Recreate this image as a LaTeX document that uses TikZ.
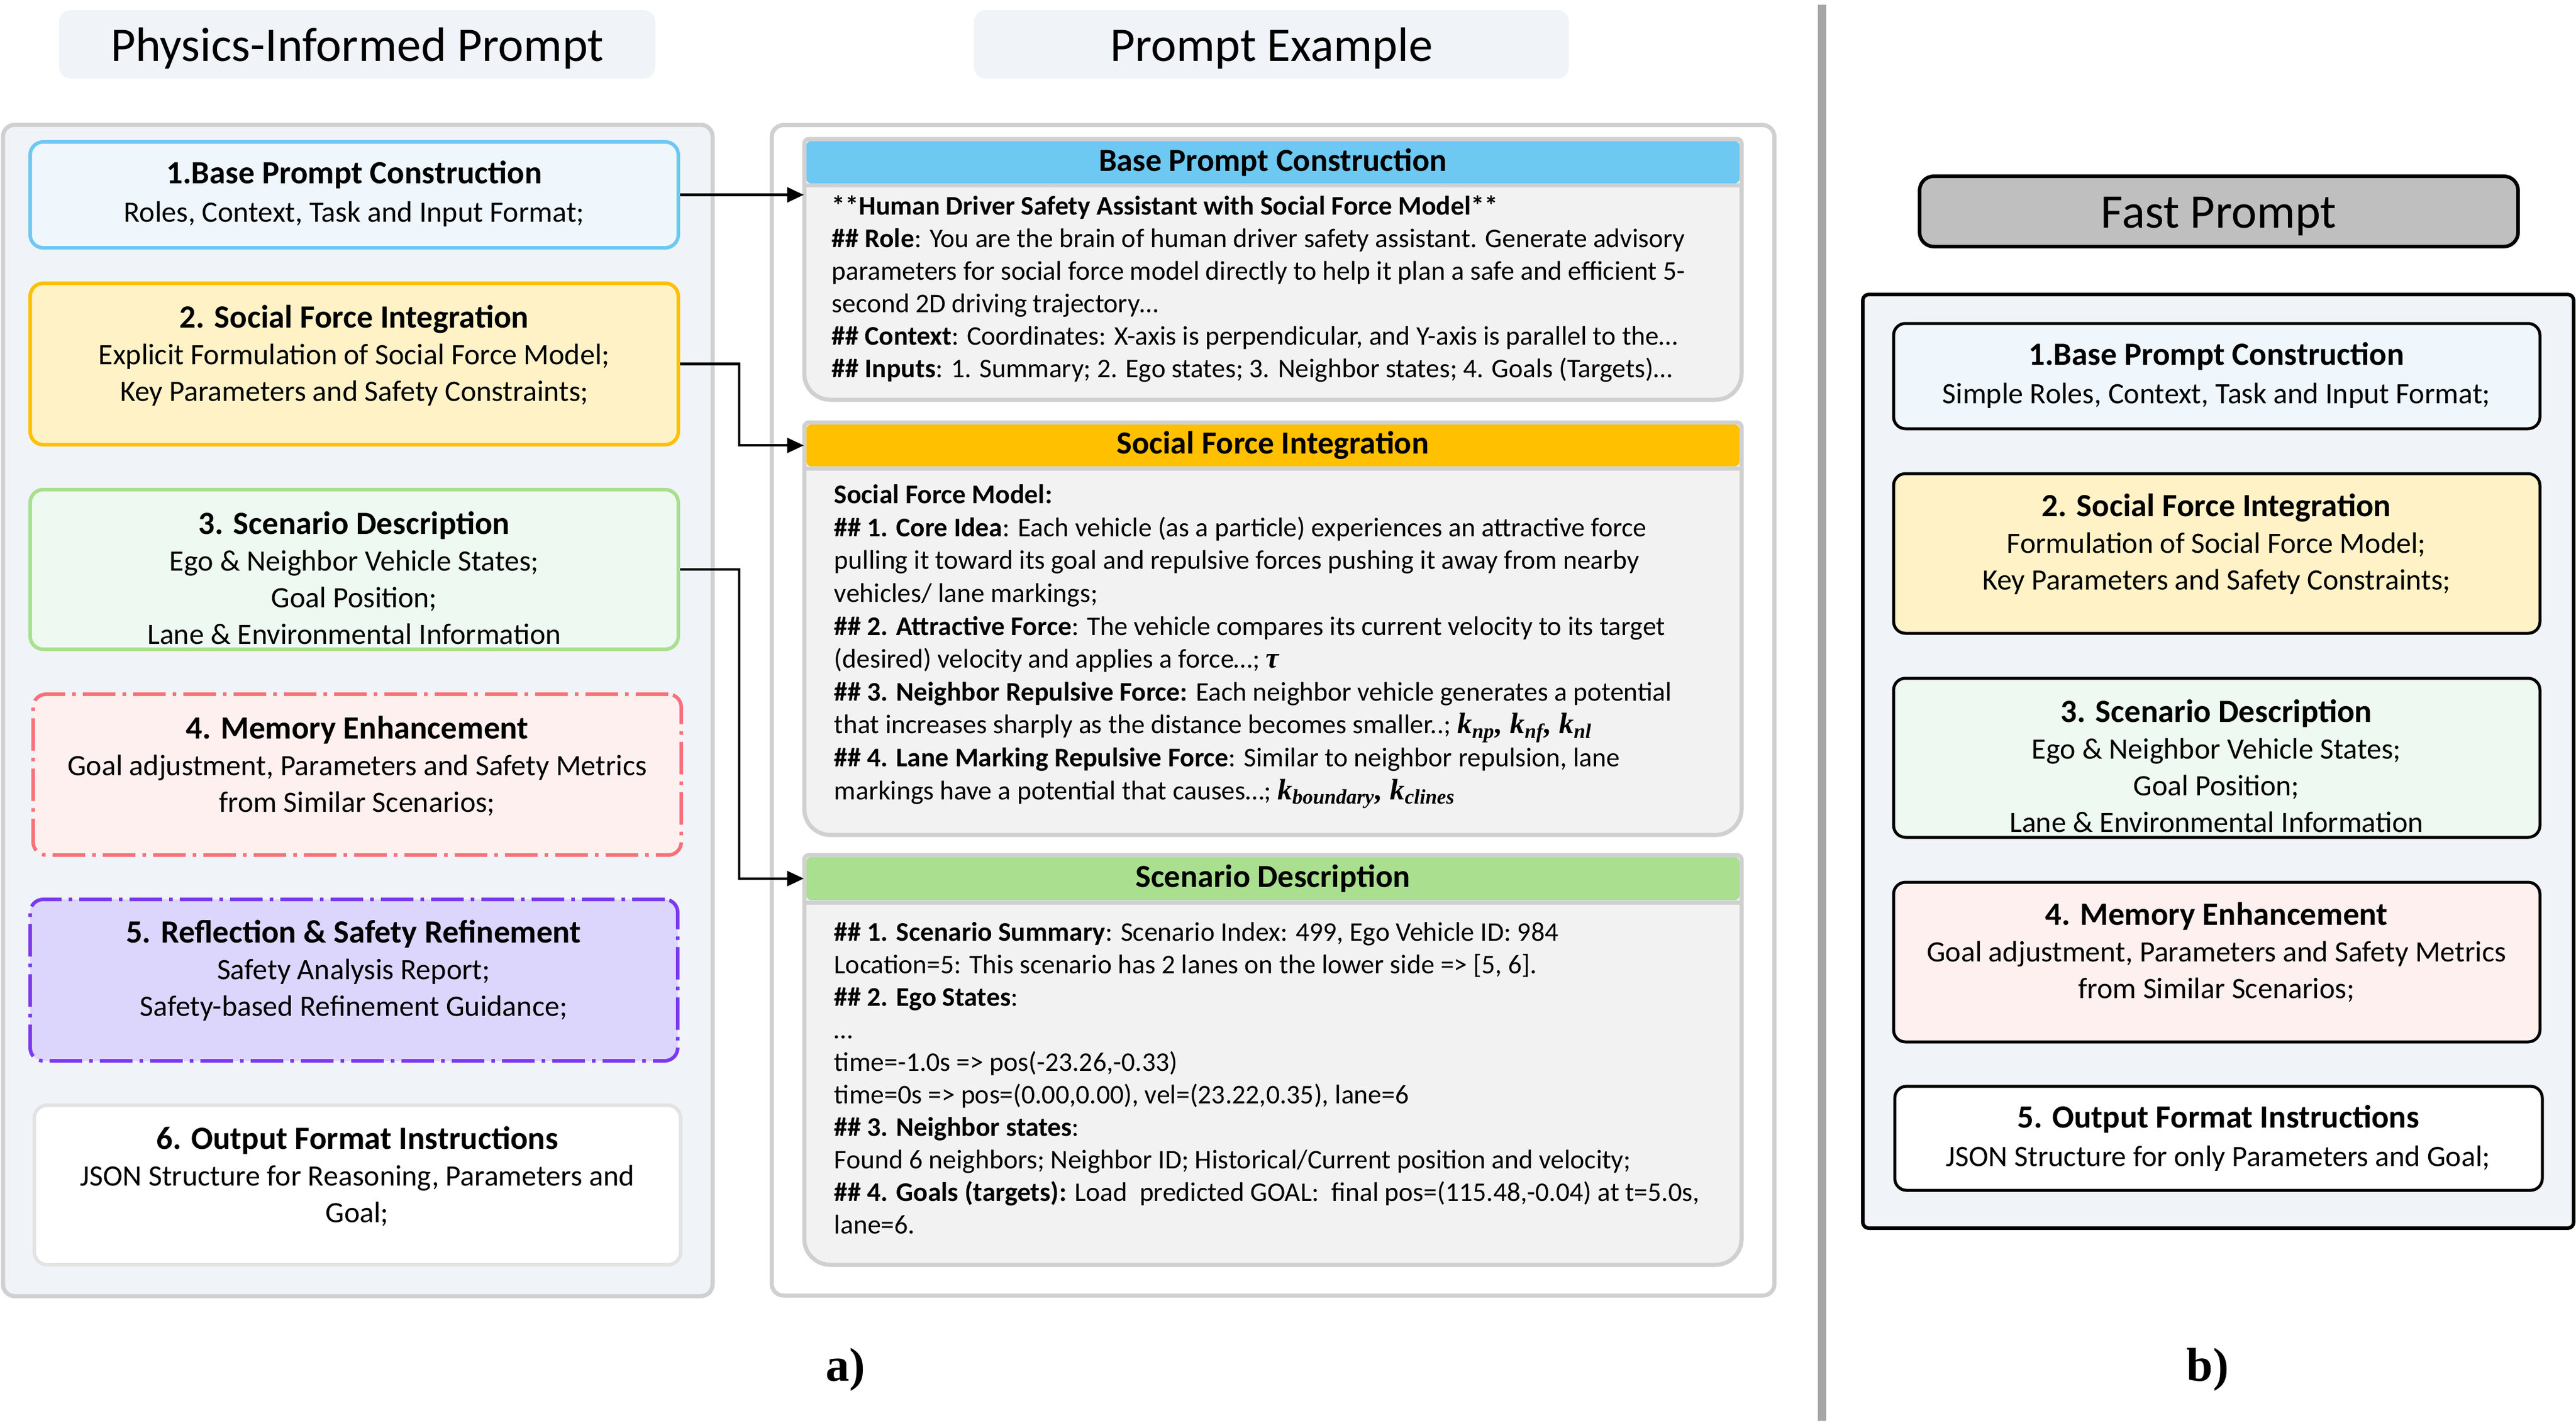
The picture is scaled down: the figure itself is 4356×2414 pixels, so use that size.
\documentclass[tikz,border=0pt]{standalone}
\usepackage{fontspec}
\setmainfont{Carlito}
\newfontfamily\timesfont{Liberation Serif}
\usetikzlibrary{arrows.meta,fit,calc}
\definecolor{pfill}{HTML}{F0F3F8}
\definecolor{pgray}{HTML}{D0D0D0}
\definecolor{cfill}{HTML}{F2F2F2}
\definecolor{hblue}{HTML}{6DC8F2}
\definecolor{horange}{HTML}{FFC000}
\definecolor{hgreen}{HTML}{A9DF8E}
\definecolor{fblue}{HTML}{EFF7FD}
\definecolor{fyellow}{HTML}{FFF2C7}
\definecolor{fgreen}{HTML}{EEF9F1}
\definecolor{fred}{HTML}{FEF0EF}
\definecolor{fpurple}{HTML}{DCD6FD}
\definecolor{bblue}{HTML}{6DC8F2}
\definecolor{byellow}{HTML}{FFC000}
\definecolor{bgreen}{HTML}{A9DF8E}
\definecolor{bred}{HTML}{F7717A}
\definecolor{bpurple}{HTML}{7C3AED}
\definecolor{bwhite}{HTML}{E3E3E3}
\definecolor{sepgray}{HTML}{A6A6A6}
\definecolor{fastgray}{HTML}{BFBFBF}
\newcommand\ttl[1]{{\fontsize{13.7}{15.5}\selectfont\bfseries #1}}
\newcommand\bim[1]{{\fontsize{12.5}{13.75}\timesfont\bfseries\itshape #1}}
\newcommand\kk[1]{\bim{k\textsubscript{#1}}}
\newcommand\mkcard[6]{%
  \draw[cardline] (#2,#6) [rounded corners=2pt] -- (#2,#3) -- (#4,#3) -- (#4,#6)
     [rounded corners=11pt] -- (#4,#5) -- (#2,#5) -- cycle;
  \node[inner sep=0pt, fit={(#2,#3)(#4,#5)}] (#1) {};
}
\begin{document}
\begin{tikzpicture}[x=0.25pt,y=-0.25pt,
  panel/.style={draw=pgray, line width=1.75pt, rounded corners=5pt, inner sep=0pt},
  tbox/.style={fill=pfill, rounded corners=5pt, inner sep=0pt},
  lbox/.style={line width=1.5pt, rounded corners=5.5pt, inner sep=0pt},
  rbox/.style={draw=black, line width=1.25pt, rounded corners=5pt, inner sep=0pt},
  btxt/.style={align=center, inner sep=0pt, font=\fontsize{12.5}{15.5}\selectfont},
  bigt/.style={anchor=base, inner sep=0pt, font=\fontsize{20.4}{24}\selectfont},
  hdr/.style={inner sep=0pt, rounded corners=2pt},
  htxt/.style={inner sep=0pt, font=\fontsize{13.6}{16}\selectfont\bfseries},
  cardline/.style={draw=pgray, line width=1.75pt, fill=cfill},
  sepl/.style={draw=pgray, line width=1.75pt},
  mtxt/.style={align=left, anchor=base west, inner sep=0pt},
  conn/.style={line width=1.1pt, -{Triangle[length=7pt,width=6.25pt]}},
  lbl/.style={anchor=base west, inner sep=0pt, font=\fontsize{20}{24}\timesfont\bfseries},
  dashdot/.style={dash pattern=on 13.75pt off 3pt on 1.5pt off 3pt},
]
\fill[white] (0,0) rectangle (4356,2414);
\useasboundingbox (0,0) rectangle (4356,2414);

% ---------- titles ----------
\node[tbox, fit={(100,17)(1108,133)}] (t1) {};
\node[bigt] (t1t) at (604,103) {Physics-Informed Prompt};
\node[tbox, fit={(1647,17)(2653,133)}] (t2) {};
\node[bigt] (t2t) at (2150,103) {Prompt Example};

% ---------- left panel ----------
\node[panel, fill=pfill, fit={(5,211)(1205,2192)}] (lp) {};
\node[lbox, draw=bblue, fill=fblue, fit={(51,240)(1147,419)}] (b1) {};
\node[btxt] (b1t) at (599,328) {\ttl{1.Base Prompt Construction}\\[0.75pt]Roles, Context, Task and Input Format;};
\node[lbox, draw=byellow, fill=fyellow, fit={(51,479)(1147,752)}] (b2) {};
\node[btxt] (b2t) at (599,601) {\ttl{2. Social Force Integration}\\Explicit Formulation of Social Force Model;\\Key Parameters and Safety Constraints;};
\node[lbox, draw=bgreen, fill=fgreen, fit={(51,828)(1147,1098)}] (b3) {};
\node[btxt] (b3t) at (599,977) {\ttl{3. Scenario Description}\\Ego \& Neighbor Vehicle States;\\Goal Position;\\Lane \& Environmental Information};
\node[lbox, draw=bred, fill=fred, dashdot, fit={(56,1174)(1152,1446)}] (b4) {};
\node[btxt] (b4t) at (604,1295) {\ttl{4. Memory Enhancement}\\Goal adjustment, Parameters and Safety Metrics\\from Similar Scenarios;};
\node[lbox, draw=bpurple, fill=fpurple, dashdot, fit={(51,1521)(1146,1794)}] (b5) {};
\node[btxt] (b5t) at (598,1641) {\ttl{5. Reflection \& Safety Refinement}\\Safety Analysis Report;\\Safety-based Refinement Guidance;};
\node[lbox, draw=bwhite, fill=white, fit={(58,1869)(1151,2139)}] (b6) {};
\node[btxt] (b6t) at (604,1989) {\ttl{6. Output Format Instructions}\\JSON Structure for Reasoning, Parameters and\\Goal;};

% ---------- middle panel ----------
\node[panel, fill=white, fit={(1305,211.5)(3000.5,2191)}] (mp) {};

\mkcard{c1}{1360}{235}{2945}{676}{450}
\node[hdr, fill=hblue, fit={(1363.5,238.5)(2941.5,310)}] (h1) {};
\node[htxt] (h1t) at (h1.center) {Base Prompt Construction};
\draw[sepl] (1360,313.5) -- (2945,313.5);
% anchor = baseline of the last line
\node[mtxt, font=\fontsize{11.4}{13.75}\selectfont] (m1) at (1406,638) {%
\textbf{**Human Driver Safety Assistant with Social Force Model**}\\
\textbf{\#\# Role}: You are the brain of human driver safety assistant. Generate advisory\\
parameters for social force model directly to help it plan a safe and efficient 5-\\
second 2D driving trajectory…\\
\textbf{\#\# Context}: Coordinates: X-axis is perpendicular, and Y-axis is parallel to the…\\
\textbf{\#\# Inputs}: 1. Summary; 2. Ego states; 3. Neighbor states; 4. Goals (Targets)…};

\mkcard{c2}{1360}{714.5}{2945}{1412}{1000}
\node[hdr, fill=horange, fit={(1363.5,718)(2941.5,788.5)}] (h2) {};
\node[htxt] (h2t) at (h2.center) {Social Force Integration};
\draw[sepl] (1360,792) -- (2945,792);
\node[mtxt, font=\fontsize{11.4}{13.9}\selectfont] (m2) at (1410,1352) {%
\textbf{Social Force Model:}\\
\textbf{\#\# 1. Core Idea}: Each vehicle (as a particle) experiences an attractive force\\
pulling it toward its goal and repulsive forces pushing it away from nearby\\
vehicles/ lane markings;\\
\textbf{\#\# 2. Attractive Force}: The vehicle compares its current velocity to its target\\
(desired) velocity and applies a force…; \bim{τ}\\
\textbf{\#\# 3. Neighbor Repulsive Force:} Each neighbor vehicle generates a potential\\
that increases sharply as the distance becomes smaller..; \kk{np}\bim{, }\kk{nf}\bim{, }\kk{nl}\\
\textbf{\#\# 4. Lane Marking Repulsive Force}: Similar to neighbor repulsion, lane\\
markings have a potential that causes…; \kk{boundary}\bim{, }\kk{clines}};

\mkcard{c3}{1360}{1446}{2945}{2139}{1700}
\node[hdr, fill=hgreen, fit={(1363.5,1449.5)(2941.5,1522)}] (h3) {};
\node[htxt] (h3t) at (h3.center) {Scenario Description};
\draw[sepl] (1360,1526) -- (2945,1526);
\node[mtxt, font=\fontsize{11.4}{13.75}\selectfont] (m3) at (1410,2086) {%
\textbf{\#\# 1. Scenario Summary}: Scenario Index: 499, Ego Vehicle ID: 984\\
Location=5: This scenario has 2 lanes on the lower side => [5, 6].\\
\textbf{\#\# 2. Ego States}:\\
…\\
time=-1.0s => pos(-23.26,-0.33)\\
time=0s => pos=(0.00,0.00), vel=(23.22,0.35), lane=6\\
\textbf{\#\# 3. Neighbor states}:\\
Found 6 neighbors; Neighbor ID; Historical/Current position and velocity;\\
\textbf{\#\# 4. Goals (targets):} Load\ \ predicted GOAL:\ \ final pos=(115.48,-0.04) at t=5.0s,\\
lane=6.};

% ---------- connectors ----------
\coordinate (jx) at (1250,0);
\draw[conn] (b1.east) -- (b1.east -| c1.west);
\draw[conn] (b2.east) -- (b2.east -| jx) |- (h2.west -| c2.west);
\draw[conn] (b3.east) -- (b3.east -| jx) |- (h3.west -| c3.west);

% ---------- separator ----------
\draw[line width=3.5pt, sepgray] (3081,8) -- (3081,2403);

% ---------- right panel ----------
\node[draw=black, line width=1.5pt, fill=fastgray, rounded corners=6pt, inner sep=0pt, fit={(3246,298)(4258,417)}] (fp) {};
\node[bigt] (fpt) at (3752,385) {Fast Prompt};
\node[draw=black, line width=1.5pt, fill=pfill, rounded corners=2.5pt, inner sep=0pt, fit={(3150,498)(4352,2077)}] (rp) {};
\node[rbox, fill=fblue, fit={(3202,547)(4295,725)}] (r1) {};
\node[btxt] (r1t) at (3748,635) {\ttl{1.Base Prompt Construction}\\[0.75pt]Simple Roles, Context, Task and Input Format;};
\node[rbox, fill=fyellow, fit={(3202,801)(4295,1071)}] (r2) {};
\node[btxt] (r2t) at (3748,920) {\ttl{2. Social Force Integration}\\Formulation of Social Force Model;\\Key Parameters and Safety Constraints;};
\node[rbox, fill=fgreen, fit={(3202,1147)(4295,1416)}] (r3) {};
\node[btxt] (r3t) at (3748,1295) {\ttl{3. Scenario Description}\\Ego \& Neighbor Vehicle States;\\Goal Position;\\Lane \& Environmental Information};
\node[rbox, fill=fred, fit={(3202,1492)(4295,1762)}] (r4) {};
\node[btxt] (r4t) at (3748,1610) {\ttl{4. Memory Enhancement}\\Goal adjustment, Parameters and Safety Metrics\\from Similar Scenarios;};
\node[rbox, fill=white, fit={(3204,1837)(4299,2013)}] (r5) {};
\node[btxt] (r5t) at (3751,1925) {\ttl{5. Output Format Instructions}\\[0.75pt]JSON Structure for only Parameters and Goal;};

% ---------- labels ----------
\node[lbl] (la) at (1396,2335) {a)};
\node[lbl] (lb) at (3697,2335) {b)};
\end{tikzpicture}
\end{document}
